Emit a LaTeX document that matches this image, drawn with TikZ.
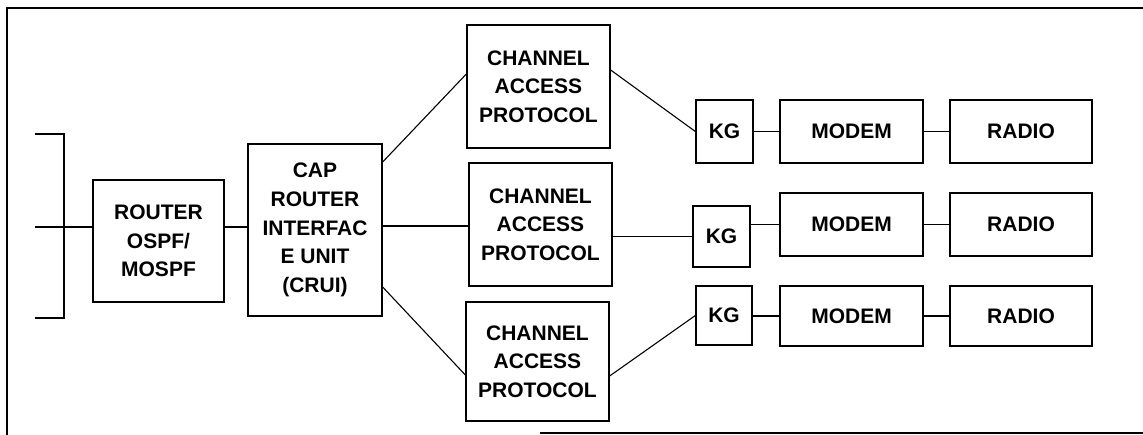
\documentclass[tikz,border=0pt]{standalone}
\usepackage{fontspec}
\setmainfont{Liberation Sans}
\begin{document}
\begin{tikzpicture}[x=1pt,y=-1pt,
  box/.style={draw,line width=1.3pt,inner sep=0pt,align=center,
    font=\fontsize{21}{28.6}\selectfont\bfseries},
  conn/.style={line width=1.1pt},
  frame/.style={line width=1.6pt}]
\useasboundingbox (0,0) rectangle (1143,435);
% frame
\draw[frame] (7,435) -- (7,8) -- (1143,8);
\draw[line width=1.2pt] (540,433) -- (1143,433);
% nodes
\node[box,minimum width=131pt,minimum height=122pt] (router) at (158.5,241) {ROUTER\\OSPF/\\MOSPF};
\node[box,minimum width=134pt,minimum height=172pt] (crui) at (315,230) {CAP\\ROUTER\\INTERFAC\\E UNIT\\(CRUI)};
\node[box,minimum width=143pt,minimum height=123pt] (cap1) at (538.5,86.5) {CHANNEL\\ACCESS\\PROTOCOL};
\node[box,minimum width=143pt,minimum height=123pt] (cap2) at (540.5,224.5) {CHANNEL\\ACCESS\\PROTOCOL};
\node[box,minimum width=143pt,minimum height=119pt] (cap3) at (537.5,361.5) {CHANNEL\\ACCESS\\PROTOCOL};
\node[box,minimum width=57pt,minimum height=63pt] (kg1) at (724.5,131.5) {KG};
\node[box,minimum width=57pt,minimum height=61pt] (kg2) at (721.5,236.5) {KG};
\node[box,minimum width=56pt,minimum height=59pt] (kg3) at (724,315.5) {KG};
\node[box,minimum width=143pt,minimum height=63pt] (m1) at (851.5,131.5) {MODEM};
\node[box,minimum width=143pt,minimum height=63pt] (m2) at (851.5,224.5) {MODEM};
\node[box,minimum width=143pt,minimum height=60pt] (m3) at (851.5,316) {MODEM};
\node[box,minimum width=142pt,minimum height=63pt] (r1) at (1021,131.5) {RADIO};
\node[box,minimum width=142pt,minimum height=63pt] (r2) at (1021,224.5) {RADIO};
\node[box,minimum width=142pt,minimum height=60pt] (r3) at (1021,316) {RADIO};
% bracket
\coordinate (bt) at (35,134);
\coordinate (bb) at (35,318);
\coordinate (bm) at (35,227);
\coordinate (bvt) at (64,134);
\coordinate (bvb) at (64,318);
\draw[conn] (bt) -- (bvt) -- (bvb) -- (bb);
\draw[conn] (bm) -- (bm -| router.west);
\draw[conn] (router.east |- bm) -- (crui.west |- bm);
% CRUI to CAPs
\draw[conn] ([yshift=68pt]crui.east) -- ([yshift=12.5pt]cap1.west);
\draw[conn] ([yshift=4pt]crui.east) -- ([yshift=4pt]crui.east -| cap2.west);
\draw[conn] ([yshift=-57pt]crui.east) -- ([yshift=-13.5pt]cap3.west);
% CAPs to KG
\draw[conn] ([yshift=16.5pt]cap1.east) -- (kg1.west);
\draw[conn] (kg2.west -| cap2.east) -- (kg2.west);
\draw[conn] ([yshift=-14.5pt]cap3.east) -- (kg3.west);
% KG to MODEM to RADIO
\draw[conn] (kg1.east) -- (kg1.east -| m1.west);
\draw[conn] (kg2.east |- m2.west) -- (m2.west);
\draw[conn] (kg3.east |- m3.west) -- (m3.west);
\draw[conn] (m1.east) -- (r1.west);
\draw[conn] (m2.east) -- (r2.west);
\draw[conn] (m3.east) -- (r3.west);
\end{tikzpicture}
\end{document}
